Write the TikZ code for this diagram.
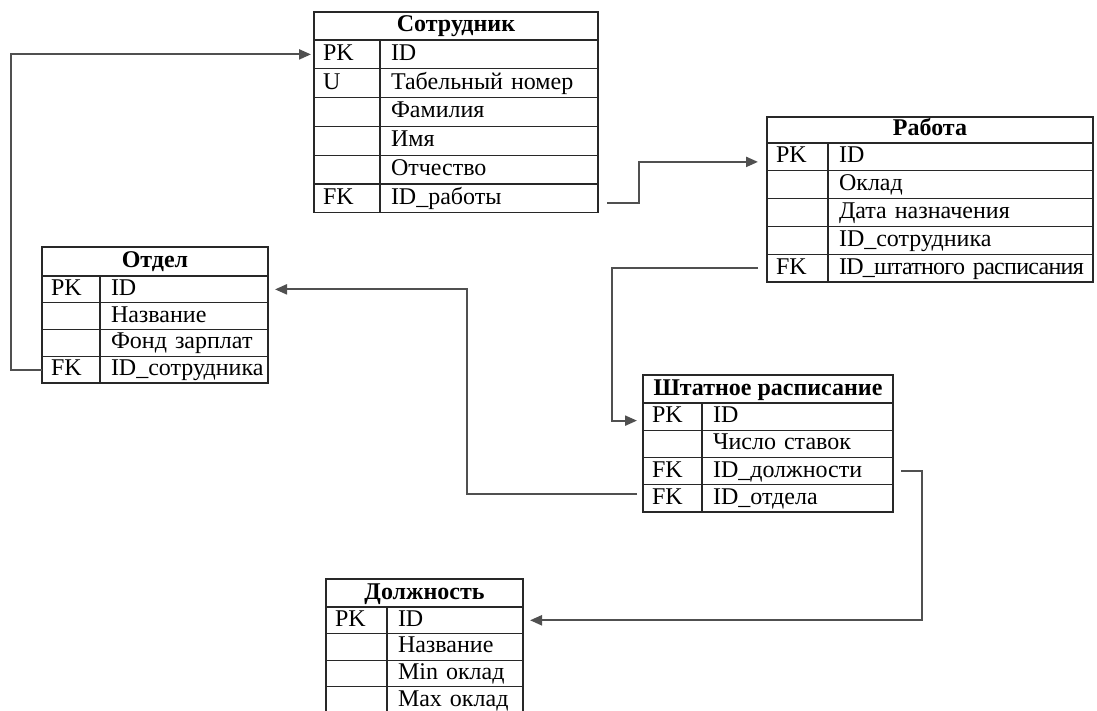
\documentclass[tikz,border=0pt]{standalone}
\usepackage{fontspec}
\setmainfont{Liberation Serif}
\usetikzlibrary{arrows.meta,calc}
\definecolor{LinkClr}{RGB}{80,80,80}
\definecolor{GridClr}{RGB}{40,40,40}

\tikzset{
  cell/.style={draw=GridClr,line width=1.2pt,inner ysep=0pt,outer sep=0pt,anchor=north west,
    text height=17pt,text depth=5pt,font=\fontsize{24}{28}\selectfont},
  tabhead/.style={cell,font=\fontsize{24}{28}\selectfont\bfseries,inner xsep=0pt},
  keycell/.style={cell,align=left,inner xsep=9pt},
  fieldcell/.style={cell,align=left,inner xsep=11pt},
  link/.style={draw=LinkClr,line width=2.2pt,-{Triangle[length=12pt,width=10pt]}}
}

\begin{document}
\begin{tikzpicture}[x=1pt,y=-1pt]
\useasboundingbox (0,0) rectangle (1097,711);

% Сотрудник
\node[tabhead,minimum width=284pt,minimum height=28pt] (sotr) at (314,12) {Сотрудник};
\foreach \k/\f [count=\i] in {PK/ID,U/Табельный номер,/Фамилия,/Имя,/Отчество,FK/ID\_работы}{
  \node[keycell,text width=48pt,minimum height=28.8pt] (sotrk\i) at ($(sotr.south west)+(0,{(\i-1)*28.8})$) {\k};
  \node[fieldcell,text width=196pt,minimum height=28.8pt] (sotrf\i) at (sotrk\i.north east) {\mbox{\f}};
}

% Работа
\node[tabhead,minimum width=326pt,minimum height=26pt] (rab) at (767,117) {Работа};
\foreach \k/\f [count=\i] in {PK/ID,/Оклад,/Дата назначения,/ID\_сотрудника,FK/{\addfontfeature{LetterSpace=-3}ID\_штатного расписания}}{
  \node[keycell,text width=43pt,minimum height=27.8pt] (rabk\i) at ($(rab.south west)+(0,{(\i-1)*27.8})$) {\k};
  \node[fieldcell,text width=243pt,minimum height=27.8pt] (rabf\i) at (rabk\i.north east) {\mbox{\f}};
}

% Отдел
\node[tabhead,minimum width=226pt,minimum height=29pt] (otd) at (42,247) {Отдел};
\foreach \k/\f [count=\i] in {PK/ID,/Название,/Фонд зарплат,FK/ID\_сотрудника}{
  \node[keycell,text width=40pt,minimum height=26.75pt] (otdk\i) at ($(otd.south west)+(0,{(\i-1)*26.75})$) {\k};
  \node[fieldcell,text width=146pt,minimum height=26.75pt] (otdf\i) at (otdk\i.north east) {\mbox{\f}};
}

% Штатное расписание
\node[tabhead,minimum width=250pt,minimum height=28pt] (sht) at (643,375) {Штатное расписание};
\foreach \k/\f [count=\i] in {PK/ID,/Число ставок,FK/ID\_должности,FK/ID\_отдела}{
  \node[keycell,text width=41pt,minimum height=27.25pt] (shtk\i) at ($(sht.south west)+(0,{(\i-1)*27.25})$) {\k};
  \node[fieldcell,text width=169pt,minimum height=27.25pt] (shtf\i) at (shtk\i.north east) {\mbox{\f}};
}

% Должность
\node[tabhead,minimum width=197pt,minimum height=28pt] (dol) at (326,579) {Должность};
\foreach \k/\f [count=\i] in {PK/ID,/Название,/Min оклад,/Max оклад}{
  \node[keycell,text width=43pt,minimum height=26.6pt] (dolk\i) at ($(dol.south west)+(0,{(\i-1)*26.6})$) {\k};
  \node[fieldcell,text width=114pt,minimum height=26.6pt] (dolf\i) at (dolk\i.north east) {\mbox{\f}};
}

% связи
\draw[link] (otdk4.west) -- ++(-31,0) |- ([xshift=-3pt]sotrk1.west);
\draw[link] ([xshift=9pt,yshift=-5pt]sotrf6.east) -- ++(32,0) |- ([xshift=-9pt,yshift=-5pt]rabk1.west);
\draw[link] ([xshift=-9pt]rabk5.west) -- ++(-146,0) |- ([xshift=-6pt,yshift=-4pt]shtk1.west);
\draw[link] ([xshift=-6pt,yshift=4pt]shtk4.west) -- ++(-170,0) |- ([xshift=7pt]otdf1.east);
\draw[link] ([xshift=8pt]shtf3.east) -- ++(21,0) |- ([xshift=7pt]dolf1.east);

\end{tikzpicture}
\end{document}
